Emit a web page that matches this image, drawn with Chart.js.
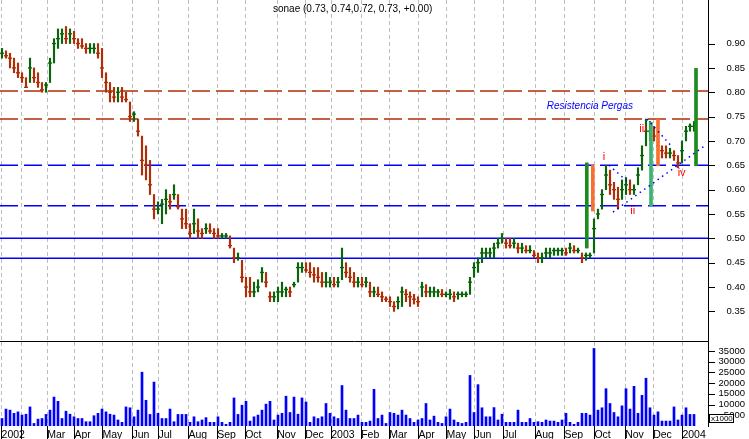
<!DOCTYPE html>
<html>
<head>
<meta charset="utf-8">
<script src="https://cdn.jsdelivr.net/npm/chart.js@4.4.1/dist/chart.umd.min.js"></script>
<style>
  html, body { margin: 0; padding: 0; background: #fff; }
  #wrap { position: relative; width: 749px; height: 439px; overflow: hidden; }
  #price { position: absolute; left: 0; top: 0; }
  #vol { position: absolute; left: 0; top: 342px; }
</style>
</head>
<body>
<div id="wrap">
  <canvas id="price" width="749" height="342"></canvas>
  <canvas id="vol" width="749" height="97"></canvas>
</div>
<script>
// Month ticks (in bar units, one bar = 3 sessions) and their labels
const monthPos = [-0.1, 4.8, 11.3, 18.1, 25.1, 32.6, 39.1, 46.6, 53.8, 60.8, 68.8, 75.8,
                  82.3, 89.8, 96.8, 104.1, 111.1, 118.1, 125.3, 133.3, 140.6, 148.1, 155.8, 162.8, 170.1];
const monthLabels = ['2002', '', 'Mar', 'Apr', 'May', 'Jun', 'Jul', 'Aug', 'Sep', 'Oct', 'Nov', 'Dec',
                     '2003', 'Feb', 'Mar', 'Apr', 'May', 'Jun', 'Jul', 'Aug', 'Sep', 'Oct', 'Nov', 'Dec', '2004'];

// sonae price bars
const highs = [
  .89,.885,.88,.87,.86,.84,.83,.87,.85,.84,
  .82,.82,.87,.91,.93,.93,.935,.93,.925,.91,
  .91,.90,.90,.90,.90,.89,.84,.82,.81,.81,
  .81,.80,.78,.76,.745,.71,.69,.66,.59,.575,
  .58,.60,.59,.61,.59,.56,.56,.53,.56,.54,
  .52,.53,.53,.52,.52,.51,.51,.505,.48,.47,
  .455,.42,.42,.41,.415,.44,.43,.39,.39,.40,
  .41,.40,.40,.41,.45,.45,.45,.45,.44,.44,
  .43,.43,.42,.42,.42,.48,.45,.44,.43,.42,
  .42,.42,.41,.40,.40,.39,.38,.38,.37,.38,
  .40,.395,.39,.385,.38,.41,.405,.40,.40,.395,
  .395,.39,.395,.39,.39,.39,.39,.42,.45,.46,
  .48,.48,.48,.49,.50,.51,.50,.50,.50,.49,
  .49,.485,.485,.475,.47,.47,.48,.48,.48,.48,
  .48,.48,.49,.485,.48,.47,.47,.47,.54,.56,
  .60,.65,.64,.615,.605,.62,.625,.62,.61,.645,
  .69,.745,.74,.73,.71,.69,.69,.685,.68,.67,
  .70,.73,.735,.74
];
const lows = [
  .87,.87,.85,.84,.83,.82,.81,.82,.82,.81,
  .80,.80,.82,.86,.89,.90,.90,.90,.90,.89,
  .89,.88,.88,.88,.87,.83,.80,.78,.78,.78,
  .78,.78,.74,.74,.71,.63,.62,.59,.54,.55,
  .53,.55,.56,.58,.56,.52,.52,.50,.51,.50,
  .50,.51,.51,.50,.50,.50,.50,.48,.45,.455,
  .41,.38,.38,.38,.39,.41,.40,.37,.37,.37,
  .38,.38,.38,.40,.41,.43,.43,.42,.41,.41,
  .40,.40,.40,.40,.40,.415,.42,.41,.40,.40,
  .40,.40,.38,.38,.38,.37,.37,.36,.35,.355,
  .36,.37,.36,.365,.36,.38,.38,.38,.38,.38,
  .38,.38,.375,.37,.375,.38,.38,.385,.42,.43,
  .45,.46,.46,.46,.48,.49,.48,.48,.48,.47,
  .47,.47,.47,.46,.45,.45,.46,.46,.465,.465,
  .465,.465,.47,.47,.47,.45,.455,.46,.47,.54,
  .56,.60,.59,.58,.56,.58,.59,.59,.59,.61,
  .64,.69,.70,.70,.68,.665,.665,.665,.66,.645,
  .655,.70,.72,.72
];
const closes = [
  .88,.875,.87,.85,.84,.83,.81,.85,.83,.82,
  .805,.815,.86,.90,.91,.92,.91,.92,.91,.90,
  .895,.89,.89,.89,.88,.85,.82,.80,.79,.80,
  .79,.785,.75,.755,.72,.66,.65,.61,.56,.56,
  .57,.58,.575,.59,.565,.54,.53,.51,.53,.515,
  .51,.52,.515,.51,.505,.505,.505,.485,.46,.46,
  .42,.40,.39,.39,.40,.43,.41,.38,.38,.39,
  .39,.395,.39,.405,.44,.44,.435,.43,.425,.42,
  .41,.41,.41,.405,.41,.44,.43,.42,.41,.41,
  .405,.41,.39,.39,.385,.38,.375,.37,.36,.37,
  .39,.385,.38,.375,.37,.40,.39,.39,.39,.39,
  .385,.385,.385,.38,.385,.385,.385,.41,.44,.45,
  .47,.47,.47,.48,.49,.50,.49,.485,.49,.48,
  .48,.475,.475,.465,.46,.46,.47,.47,.475,.475,
  .475,.47,.48,.475,.475,.46,.465,.465,.52,.55,
  .59,.63,.61,.60,.58,.60,.61,.60,.60,.63,
  .67,.72,.72,.71,.69,.68,.675,.675,.67,.655,
  .68,.72,.73,.73
];
const volumes = [
  3500,7900,7400,5900,6600,5100,5500,8900,1200,3200,
  3500,5400,7400,13500,11500,3500,6900,5500,4300,3500,
  3500,2000,2000,4800,5900,7900,6600,5500,5100,2800,
  1700,8900,8500,4300,7400,25100,12000,5400,20500,5900,
  3500,3500,7900,2000,5400,5400,5400,1700,4300,2000,
  2800,3900,1700,1700,4300,1700,800,1700,13100,5400,
  9700,11500,2300,4300,5100,7400,10200,11500,2800,5100,
  5900,13900,6300,13500,5500,13100,11200,1700,4300,3500,
  4300,10500,5900,4300,3500,18900,7400,3500,3500,5100,
  1700,1700,2300,17100,3500,5100,1200,6300,5900,5100,
  7400,5100,3500,1700,2800,3500,10500,2800,4600,1700,
  1200,4300,7900,2800,1700,1200,1700,23600,6300,19300,
  8500,4300,4300,8600,2800,5500,1700,1700,1700,7400,
  1700,1700,3500,1700,2000,1700,2800,2300,2300,1700,
  2800,5900,1700,800,1700,5900,5900,5100,36200,7400,
  8500,17400,10500,6300,4300,9400,17400,7900,18500,5900,
  14300,22300,8500,5100,6600,2300,2300,2300,8900,2800,
  5100,8500,5400,5400
];

// Horizontal levels drawn by the analyst
const resistLevels = [0.8025, 0.745];
const dashLevels = [0.65, 0.567];
const solidLevels = [0.50, 0.459];

// Highlighted bars (position, low, high)
const markerPos = [146.2, 147.7, 162.25, 164, 173.5];
const markerLow = [0.48, 0.556, 0.567, 0.649, 0.649];
const markerHigh = [0.655, 0.65, 0.738, 0.744, 0.849];

// Dotted trend lines: [x1, y1, x2, y2]
const trendLines = [
  [152.75, 0.554, 176, 0.692],
  [151.75, 0.65, 157, 0.612],
  [161.25, 0.745, 167.5, 0.688]
];

// Wave notes
const notes = [
  { text: 'i', x: 150.5, y: 0.668 },
  { text: 'ii', x: 157.7, y: 0.556 },
  { text: 'iii', x: 160.25, y: 0.724 },
  { text: 'iv', x: 169.9, y: 0.635 }
];

const X_MIN = -0.5, X_MAX = 176.5;
const UP = '#0b640b', DOWN = '#b02e05';
const FONT = "'Liberation Sans', Arial, sans-serif";

const barColors = closes.map((c, i) => (i > 0 && c < closes[i - 1]) ? DOWN : UP);

function hLine(v, color, dash, width) {
  return {
    type: 'line',
    data: [{ x: X_MIN, y: v }, { x: X_MAX, y: v }],
    borderColor: color, borderWidth: width, borderDash: dash,
    pointRadius: 0, order: 5
  };
}

function priceLabel(v) {
  const k = Math.round(v * 100);
  return (k % 5 === 0 && k >= 35 && k <= 90) ? (k / 100).toFixed(2) : null;
}
function volLabel(v) {
  return (v % 5000 === 0 && v > 0) ? String(v) : null;
}

// right-axis labels are single lines: zero line height keeps the layout from padding the plot
const axisFont = { family: FONT, size: 9.5, lineHeight: 0 };
const noPad = s => { s.width = 37; s.paddingTop = 0; s.paddingBottom = 0; };

// minor / major tick marks on the right axis
const tickMarks = {
  id: 'tickMarks',
  afterDraw(chart, args, opts) {
    const s = chart.scales.y, ctx = chart.ctx;
    ctx.save();
    ctx.strokeStyle = '#000';
    ctx.lineWidth = 1;
    s.ticks.forEach(t => {
      const q = t.value / opts.major;
      const major = Math.abs(q - Math.round(q)) < 1e-6;
      const y = Math.round(s.getPixelForValue(t.value)) + 0.5;
      ctx.beginPath();
      ctx.moveTo(s.left, y);
      ctx.lineTo(s.left + (major ? 7 : 4), y);
      ctx.stroke();
    });
    ctx.restore();
  }
};

const priceText = {
  id: 'priceText',
  afterDraw(chart) {
    const ctx = chart.ctx, x = chart.scales.x, y = chart.scales.y;
    ctx.save();
    ctx.fillStyle = '#000';
    ctx.font = '10px ' + FONT;
    ctx.textBaseline = 'middle';
    ctx.textAlign = 'left';
    ctx.fillText('sonae (0.73, 0.74,0.72, 0.73, +0.00)', 273, 9);

    ctx.fillStyle = '#0000ff';
    ctx.font = 'italic 10px ' + FONT;
    ctx.fillText('Resistencia Pergas', x.getPixelForValue(136.2), y.getPixelForValue(0.772));

    ctx.fillStyle = '#ff0000';
    ctx.font = '11px ' + FONT;
    ctx.textAlign = 'center';
    notes.forEach(n => ctx.fillText(n.text, x.getPixelForValue(n.x), y.getPixelForValue(n.y)));
    ctx.restore();
  }
};

const priceDatasets = [
  ...resistLevels.map(v => hLine(v, '#b02e05', [18, 6], 1.5)),
  ...dashLevels.map(v => hLine(v, '#0000ff', [18, 6], 1.5)),
  ...solidLevels.map(v => hLine(v, '#0000ff', [], 1.5)),
  {
    type: 'bar',
    data: highs.map((h, i) => ({ x: i, y: [lows[i], h] })),
    backgroundColor: barColors,
    barThickness: 1.5, grouped: false, order: 3
  },
  {
    type: 'line',
    data: closes.map((c, i) => ({ x: i, y: c })),
    showLine: false,
    pointStyle: 'line', pointRadius: 2, pointBorderWidth: 1.3,
    pointBorderColor: barColors, order: 2
  },
  {
    type: 'bar',
    data: markerPos.map((p, i) => ({ x: p, y: [markerLow[i], markerHigh[i]] })),
    backgroundColor: ['#1c8c1c', '#f8702f', '#3cb371', '#f8702f', '#1c8c1c'],
    barThickness: 3, grouped: false, order: 1
  },
  ...trendLines.map(t => ({
    type: 'line',
    data: [{ x: t[0], y: t[1] }, { x: t[2], y: t[3] }],
    borderColor: '#0000ff', borderWidth: 1.5, borderDash: [1.5, 4],
    pointRadius: 0, order: 0
  }))
];

new Chart(document.getElementById('price'), {
  type: 'bar',
  data: { datasets: priceDatasets },
  options: {
    responsive: false,
    animation: false,
    devicePixelRatio: 1,
    layout: { autoPadding: false, padding: { left: 0, right: 4, top: 0, bottom: 0 } },
    plugins: { legend: { display: false }, tooltip: { enabled: false }, tickMarks: { major: 0.05 } },
    scales: {
      x: {
        type: 'linear', min: X_MIN, max: X_MAX, offset: false,
        afterBuildTicks: s => { s.ticks = monthPos.map(v => ({ value: v })); },
        afterFit: s => { s.height = 1; },
        ticks: { display: false },
        grid: { color: '#bdbdbd', offset: false, drawTicks: false },
        border: { display: true, color: '#000', width: 1, dash: [4, 3] }
      },
      y: {
        position: 'right', min: 0.2892, max: 0.9894,
        afterBuildTicks: s => {
          const t = [];
          for (let k = 29; k <= 98; k++) t.push({ value: k / 100 });
          s.ticks = t;
        },
        afterFit: noPad,
        ticks: {
          autoSkip: false, crossAlign: 'far', padding: 0, color: '#000',
          font: axisFont,
          callback: v => priceLabel(v)
        },
        grid: { drawOnChartArea: false, drawTicks: true, tickLength: 18.5, tickColor: 'rgba(0,0,0,0)' },
        border: { display: true, color: '#000', width: 1 }
      }
    }
  },
  plugins: [tickMarks, priceText]
});

const volText = {
  id: 'volText',
  afterDraw(chart) {
    const ctx = chart.ctx;
    ctx.save();
    ctx.fillStyle = '#fff';
    ctx.fillRect(709, 72, 25, 9);
    ctx.strokeStyle = '#000';
    ctx.lineWidth = 1;
    ctx.strokeRect(709.5, 72.5, 24, 8);
    ctx.fillStyle = '#000';
    ctx.font = '8px ' + FONT;
    ctx.textBaseline = 'middle';
    ctx.textAlign = 'left';
    ctx.fillText('x1000', 711, 77);
    ctx.restore();
  }
};

new Chart(document.getElementById('vol'), {
  type: 'bar',
  data: {
    datasets: [{
      data: volumes.map((v, i) => ({ x: i, y: v })),
      backgroundColor: '#0000ff',
      barThickness: 2, grouped: false
    }]
  },
  options: {
    responsive: false,
    animation: false,
    devicePixelRatio: 1,
    layout: { autoPadding: false, padding: { left: 0, right: 4, top: 0, bottom: 0 } },
    plugins: { legend: { display: false }, tooltip: { enabled: false }, tickMarks: { major: 5000 } },
    scales: {
      x: {
        type: 'linear', min: X_MIN, max: X_MAX, offset: false,
        afterBuildTicks: s => { s.ticks = monthPos.map(v => ({ value: v })); },
        afterFit: s => { s.height = 13; },
        ticks: {
          autoSkip: false, maxRotation: 0, align: 'start', padding: -10, color: '#000',
          font: { family: FONT, size: 10.5 },
          callback: (v, i) => monthLabels[i]
        },
        grid: { color: '#bdbdbd', offset: false, drawTicks: true, tickLength: 13,
                tickColor: '#000', tickBorderDash: [] },
        border: { display: false, dash: [4, 3] }
      },
      y: {
        position: 'right', min: 0, max: 39200,
        afterBuildTicks: s => {
          const t = [];
          for (let v = 0; v <= 38750; v += 1250) t.push({ value: v });
          s.ticks = t;
        },
        afterFit: noPad,
        ticks: {
          autoSkip: false, crossAlign: 'far', padding: 0, color: '#000',
          font: axisFont,
          callback: v => volLabel(v)
        },
        grid: { drawOnChartArea: false, drawTicks: true, tickLength: 8.6, tickColor: 'rgba(0,0,0,0)' },
        border: { display: true, color: '#000', width: 1 }
      }
    }
  },
  plugins: [tickMarks, volText]
});
</script>
</body>
</html>
